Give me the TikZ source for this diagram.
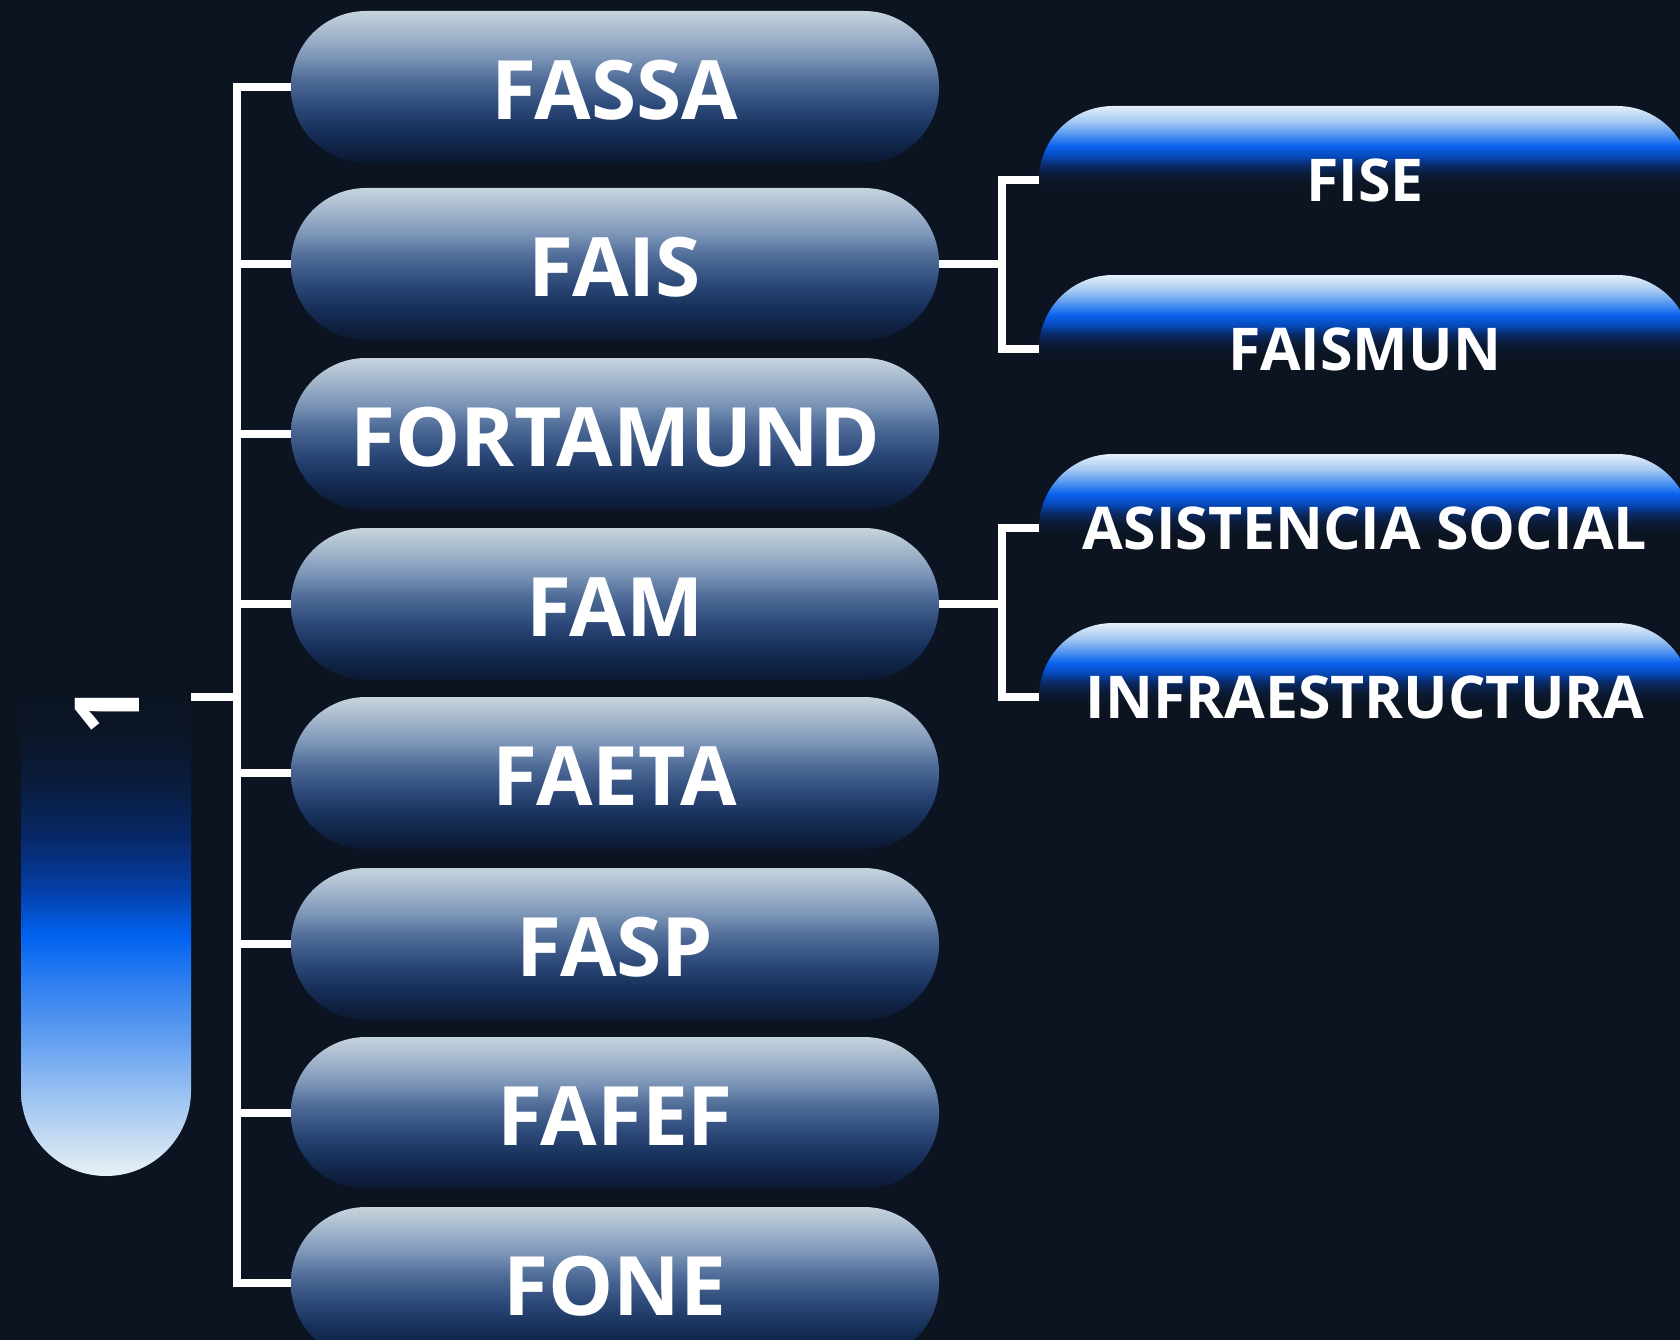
\documentclass[tikz,border=0pt]{standalone}
\usepackage{fontspec}
\setmainfont{Open Sans}
\usetikzlibrary{calc}
\definecolor{bg}{HTML}{0B1420}
\definecolor{mA}{HTML}{C6D4DC}
\definecolor{mB}{HTML}{A3B6CB}
\definecolor{mC}{HTML}{7D96B8}
\definecolor{mD}{HTML}{4F6C98}
\definecolor{mE}{HTML}{2C4878}
\definecolor{mF}{HTML}{162E58}
\definecolor{mG}{HTML}{0E1F3E}
\definecolor{mH}{HTML}{0C1830}
\definecolor{bA}{HTML}{E4EFF8}
\definecolor{bB}{HTML}{A9CBF3}
\definecolor{bC}{HTML}{4B91F0}
\definecolor{bD}{HTML}{0A62EE}
\definecolor{bE}{HTML}{0548B8}
\definecolor{bF}{HTML}{0A2A66}
\definecolor{bG}{HTML}{0B1A34}
\definecolor{lA}{HTML}{0B1526}
\definecolor{lB}{HTML}{0A1C3C}
\definecolor{lC}{HTML}{07296A}
\definecolor{lD}{HTML}{043FA8}
\definecolor{lE}{HTML}{0062F0}
\definecolor{lF}{HTML}{2C7DF0}
\definecolor{lG}{HTML}{5C9BF0}
\definecolor{lH}{HTML}{92BDF2}
\definecolor{lI}{HTML}{C6DCF2}
\definecolor{lJ}{HTML}{E6F1F6}
\pgfdeclareverticalshading{mainshade}{100bp}{color(0bp)=(mH); color(25bp)=(mH); color(28.5bp)=(mG); color(35bp)=(mF); color(43.5bp)=(mE); color(52.5bp)=(mD); color(60bp)=(mC); color(67.5bp)=(mB); color(75bp)=(mA); color(100bp)=(mA)}
\pgfdeclareverticalshading{blueshade}{100bp}{color(0bp)=(bg); color(25bp)=(bg); color(47.5bp)=(bg); color(51.5bp)=(bG); color(55bp)=(bF); color(58bp)=(bE); color(61.5bp)=(bD); color(65bp)=(bC); color(70bp)=(bB); color(75bp)=(bA); color(100bp)=(bA)}
\pgfdeclareverticalshading{barshade}{100bp}{color(0bp)=(lJ); color(25bp)=(lJ); color(28.7bp)=(lI); color(34.25bp)=(lH); color(39.7bp)=(lG); color(45.25bp)=(lF); color(49.7bp)=(lE); color(54.5bp)=(lD); color(59.5bp)=(lC); color(65.5bp)=(lB); color(71bp)=(lA); color(75bp)=(bg); color(100bp)=(bg)}
\tikzset{
  mainpill/.style={shading=mainshade, rounded corners=75pt, minimum width=648pt,
    minimum height=152pt, inner sep=0pt, text=white,
    font=\fontsize{82}{82}\selectfont\bfseries, text height=64.6pt, text depth=0pt},
  bluepill/.style={shading=blueshade, rounded corners=74pt, minimum width=652pt,
    minimum height=148pt, inner sep=0pt, text=white,
    font=\fontsize{59}{59}\selectfont\bfseries},
  conn/.style={draw=white, line width=7.5pt},
  numlabel/.style={text=white, font=\fontsize{90}{90}\selectfont\bfseries, inner sep=0pt}
}
\begin{document}
\begin{tikzpicture}[x=1pt,y=-1pt]
\useasboundingbox (0,0) rectangle (1680,1340);
\clip (0,0) rectangle (1680,1340);
\fill[bg] (0,0) rectangle (1680,1340);

% left vertical bar
\path[shading=barshade] (21,690) -- (21,1091) arc[start angle=180, end angle=0, radius=85] -- (191,690) -- cycle;
\node[numlabel, rotate=90] (one) at (107,710) {1};

% main pills
\node[mainpill] (fassa) at (615,87) {FASSA};
\node[mainpill] (fais) at (615,264) {FAIS};
\node[mainpill] (fortamund) at (615,434) {FORTAMUND};
\node[mainpill] (fam) at (615,604) {FAM};
\node[mainpill] (faeta) at (615,773) {FAETA};
\node[mainpill] (fasp) at (615,944) {FASP};
\node[mainpill] (fafef) at (615,1113) {FAFEF};
\node[mainpill] (fone) at (615,1283) {FONE};

% blue pills
\node[bluepill] (fise) at (1365,180) {FISE};
\node[bluepill] (faismun) at (1365,349) {FAISMUN};
\node[bluepill] (asist) at (1365,528) {ASISTENCIA SOCIAL};
\node[bluepill] (infra) at (1365,697) {INFRAESTRUCTURA};

% connectors
\coordinate (tk) at (237,0);
\coordinate (rt) at (1002,0);
\coordinate (barj) at (191,697);
\draw[conn] (fassa.west) -- (fassa.west -| tk) -- (fone.west -| tk) -- (fone.west);
\foreach \n in {fais,fortamund,fam,faeta,fasp,fafef}{
  \draw[conn] (\n.west) -- (\n.west -| tk);
}
\draw[conn] (barj) -- (barj -| tk);
\draw[conn] (fais.east) -- (fais.east -| rt);
\draw[conn] (fise.west) -- (fise.west -| rt) -- (faismun.west -| rt) -- (faismun.west);
\draw[conn] (fam.east) -- (fam.east -| rt);
\draw[conn] (asist.west) -- (asist.west -| rt) -- (infra.west -| rt) -- (infra.west);
\end{tikzpicture}
\end{document}
